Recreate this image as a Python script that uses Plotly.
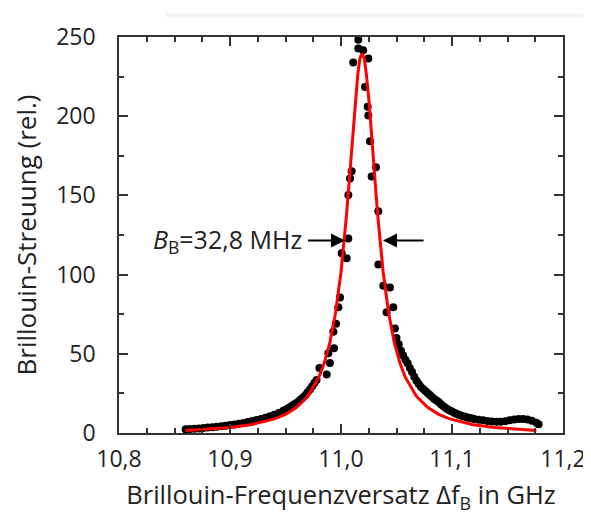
import plotly.graph_objects as go

# Measured data (Brillouin gain spectrum): low-frequency tail, peak region, high-frequency tail
freq_left = [10.860, 10.864, 10.868, 10.872, 10.876, 10.880, 10.884, 10.888, 10.892, 10.896,
             10.900, 10.904, 10.908, 10.912, 10.916, 10.920, 10.924, 10.928, 10.932, 10.936,
             10.940, 10.944, 10.948, 10.950, 10.952, 10.954, 10.956, 10.958, 10.960, 10.962,
             10.964, 10.966, 10.968, 10.970, 10.972, 10.974, 10.976, 10.978]
gain_left = [2.3, 2.5, 2.7, 2.9, 3.1, 3.4, 3.6, 3.9, 4.2, 4.6,
             5.0, 5.4, 5.9, 6.3, 6.9, 7.5, 8.2, 8.8, 9.6, 10.6,
             11.6, 12.6, 14.0, 14.7, 15.5, 16.3, 17.2, 18.1, 19.0, 20.1,
             21.3, 22.6, 24.0, 25.7, 27.5, 29.5, 31.5, 33.5]

freq_peak = [10.9805, 10.9871, 10.9886, 10.9900, 10.9931, 10.9937, 10.9955, 10.9976, 10.9991, 11.0006,
             11.0051, 11.0066, 11.0066, 11.0081, 11.0096, 11.0110, 11.0156, 11.0156, 11.0200, 11.0246,
             11.0216, 11.0240, 11.0246, 11.0261, 11.0276, 11.0315, 11.0336, 11.0336, 11.0381, 11.0441,
             11.0411, 11.0471, 11.0486]
gain_peak = [41.1, 37.0, 50.4, 44.2, 63.9, 53.5, 69.0, 79.4, 85.6, 113.5,
             110.4, 122.8, 150.3, 160.7, 165.2, 233.9, 248.3, 242.7, 241.7, 236.5,
             218.4, 206.0, 200.4, 184.2, 162.0, 167.7, 140.0, 106.3, 92.9, 91.8,
             76.3, 79.4, 65.9]

freq_right = [11.050, 11.052, 11.054, 11.056, 11.058, 11.060, 11.062, 11.064, 11.066, 11.068,
              11.070, 11.072, 11.074, 11.076, 11.078, 11.080, 11.082, 11.084, 11.086, 11.088,
              11.090, 11.092, 11.094, 11.096, 11.098, 11.100, 11.102, 11.104, 11.106, 11.108,
              11.110, 11.112, 11.114, 11.116, 11.118, 11.120, 11.124, 11.128, 11.132, 11.136,
              11.140, 11.144, 11.148, 11.152, 11.156, 11.160, 11.164, 11.168, 11.172, 11.176,
              11.178]
gain_right = [60.0, 56.0, 52.0, 49.0, 46.3, 44.0, 41.0, 38.5, 35.5, 33.0,
              31.0, 29.0, 27.8, 26.5, 25.2, 24.0, 22.7, 21.5, 20.5, 19.5,
              18.2, 17.0, 16.0, 15.0, 14.2, 13.5, 12.8, 12.2, 11.6, 11.0,
              10.6, 10.2, 9.8, 9.4, 9.1, 8.8, 8.3, 8.0, 7.6, 7.3,
              7.1, 7.1, 7.4, 8.0, 8.6, 8.9, 8.9, 8.6, 7.8, 6.5,
              5.6]

# Fitted curve
freq_fit = [10.860, 10.880, 10.900, 10.920, 10.940, 10.950, 10.960, 10.970, 10.980, 10.985,
            10.990, 10.995, 11.000, 11.005, 11.0075, 11.010, 11.0125, 11.015, 11.017, 11.019,
            11.021, 11.023, 11.0255, 11.028, 11.0305, 11.033, 11.038, 11.043, 11.048, 11.053,
            11.058, 11.068, 11.078, 11.088, 11.098, 11.118, 11.138, 11.158, 11.176]
gain_fit = [1.5, 2.3, 3.5, 5.4, 8.9, 11.8, 16.2, 23.2, 35.1, 44.3,
            57.2, 75.4, 101.5, 137.8, 160.9, 183.5, 207.4, 225.5, 236.5, 239.5,
            236.5, 225.5, 207.4, 183.5, 160.9, 137.8, 101.5, 75.4, 57.2, 44.3,
            35.1, 23.2, 16.2, 11.8, 8.9, 5.4, 3.5, 2.3, 1.6]

x_ticks = [10.8, 10.9, 11.0, 11.1, 11.2]
x_ticklabels = ["10,8", "10,9", "11,0", "11,1", "11,2"]
y_ticks = [0, 50, 100, 150, 200, 250]

# FWHM annotation
half_level = 121.5
arrow_left = (10.969, 11.0036)
arrow_right = (11.0757, 11.0378)

font_family = "Open Sans, Noto Sans, sans-serif"
txt_color = "#222222"
axis_color = "#333333"

fig = go.Figure()
fig.add_trace(go.Scatter(x=freq_left + freq_peak + freq_right,
                         y=gain_left + gain_peak + gain_right, mode="markers",
                         marker=dict(color="black", size=8), showlegend=False))
fig.add_trace(go.Scatter(x=freq_fit, y=gain_fit, mode="lines",
                         line=dict(color="#ff0000", width=3), showlegend=False))

fig.add_annotation(x=arrow_left[1], y=half_level, ax=arrow_left[0], ay=half_level,
                   xref="x", yref="y", axref="x", ayref="y", text="",
                   showarrow=True, arrowhead=2, arrowsize=1.4, arrowwidth=2, arrowcolor="black")
fig.add_annotation(x=arrow_right[1], y=half_level, ax=arrow_right[0], ay=half_level,
                   xref="x", yref="y", axref="x", ayref="y", text="",
                   showarrow=True, arrowhead=2, arrowsize=1.4, arrowwidth=2, arrowcolor="black")
fig.add_annotation(x=arrow_left[0], y=half_level, xref="x", yref="y", xanchor="right",
                   yanchor="middle", showarrow=False, xshift=-3,
                   text="<i>B</i><sub>B</sub>=32,8 MHz",
                   font=dict(size=25, color=txt_color, family=font_family))

# faint light-blue band at the very top of the picture
fig.add_shape(type="rect", xref="paper", yref="paper", x0=0.106, x1=1.07, y0=1.0496, y1=1.06,
              fillcolor="#eef4f8", line=dict(width=0), layer="below")

axis_common = dict(showline=True, linecolor=axis_color, linewidth=1.5, mirror="allticks",
                   ticks="inside", ticklen=9, tickwidth=1.5, tickcolor=axis_color,
                   showgrid=False, zeroline=False,
                   tickfont=dict(size=23, color=txt_color, family=font_family))

fig.update_xaxes(range=[10.8, 11.2], tickvals=x_ticks, ticktext=x_ticklabels,
                 minor=dict(dtick=0.025, tick0=10.8, ticks="inside", ticklen=5,
                            tickwidth=1.5, tickcolor=axis_color, showgrid=False),
                 title=dict(text="Brillouin-Frequenzversatz Δf<sub>B</sub> in GHz",
                            font=dict(size=25.5, color=txt_color, family=font_family), standoff=13),
                 ticklabelstandoff=5, **axis_common)
fig.update_yaxes(range=[0, 250], tickvals=y_ticks,
                 minor=dict(dtick=25, tick0=0, ticks="inside", ticklen=5,
                            tickwidth=1.5, tickcolor=axis_color, showgrid=False),
                 title=dict(text="Brillouin-Streuung (rel.)",
                            font=dict(size=26, color=txt_color, family=font_family), standoff=15),
                 ticklabelstandoff=17, **axis_common)

# the page body adds an 8 px offset; margins compensate so the plot area sits at 119..563 x 30..433
fig.update_layout(width=591, height=523, margin=dict(l=111, r=36, t=22, b=98),
                  paper_bgcolor="white", plot_bgcolor="white")

fig.write_html("out.html")
